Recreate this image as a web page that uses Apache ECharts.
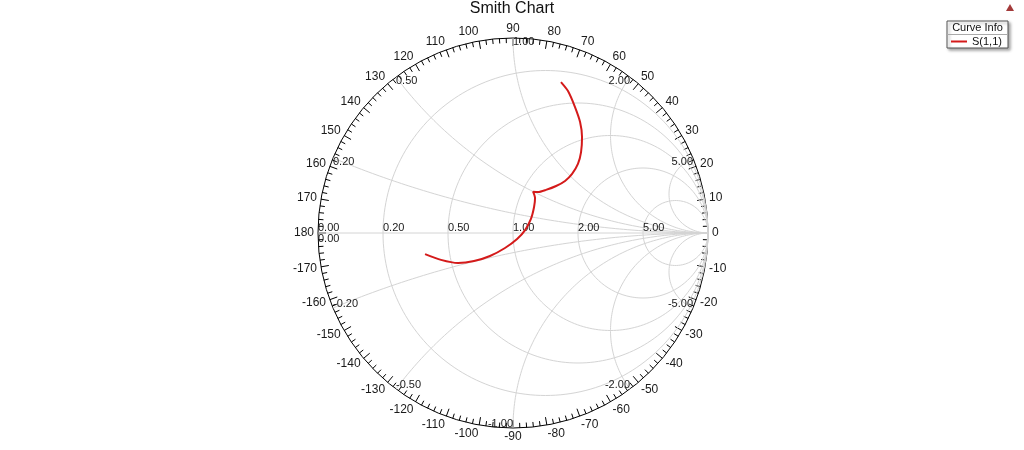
<!DOCTYPE html>
<html><head><meta charset="utf-8">
<script src="https://cdn.jsdelivr.net/npm/echarts/dist/echarts.min.js"></script>
<style>html,body{margin:0;padding:0;background:#fff}#c{width:1024px;height:450px}</style>
</head><body><div id="c"></div>
<script>
// ---- chart data ----
const titleText = 'Smith Chart';
const legendTitle = 'Curve Info';
const seriesName = 'S(1,1)';
const resistanceValues = [0.2, 0.5, 1, 2, 5];
const reactanceValues = [0.2, 0.5, 1, 2, 5, -0.2, -0.5, -1, -2, -5];
const angleTickLabels = [0, 10, 20, 30, 40, 50, 60, 70, 80, 90, 100, 110, 120, 130, 140, 150, 160, 170, 180,
  -170, -160, -150, -140, -130, -120, -110, -100, -90, -80, -70, -60, -50, -40, -30, -20, -10];
// reflection coefficient of S(1,1): real and imaginary parts
const s11Re = [0.246, 0.282, 0.318, 0.344, 0.354, 0.349, 0.333, 0.303, 0.267, 0.221, 0.169, 0.128, 0.103, 0.113, 0.108, 0.092, 0.062, 0.021, -0.041, -0.118, -0.200, -0.282, -0.369, -0.451];
const s11Im = [0.774, 0.728, 0.646, 0.569, 0.492, 0.415, 0.354, 0.303, 0.267, 0.241, 0.221, 0.210, 0.212, 0.179, 0.133, 0.072, 0.015, -0.031, -0.077, -0.118, -0.144, -0.154, -0.138, -0.108];

// ---- layout / style ----
const CX = 513, CY = 233, RAD = 195;
const GRID_COLOR = '#d4d4d4';
const FONT = 'Liberation Sans, Arial, sans-serif';

function arc(cx, cy, r, a0, a1, n) {
  const pts = [];
  for (let i = 0; i <= n; i++) {
    const a = a0 + (a1 - a0) * i / n;
    pts.push([cx + r * Math.cos(a), cy + r * Math.sin(a)]);
  }
  return pts;
}
const gridSeries = [];
function addGrid(pts) {
  gridSeries.push({
    type: 'line', data: pts, showSymbol: false, silent: true, animation: false, z: 1,
    lineStyle: { color: GRID_COLOR, width: 1 }, clip: false
  });
}
addGrid([[-1, 0], [1, 0]]);
resistanceValues.forEach(r => addGrid(arc(r / (1 + r), 0, 1 / (1 + r), 0, 2 * Math.PI, 200)));
reactanceValues.forEach(x => {
  const ax = Math.abs(x), s = Math.sign(x);
  const bx = (ax * ax - 1) / (ax * ax + 1), by = 2 * ax / (ax * ax + 1);
  let end = Math.atan2(by - 1 / ax, bx - 1);
  if (end > -Math.PI / 2) end -= 2 * Math.PI;
  const pts = arc(1, 1 / ax, 1 / ax, -Math.PI / 2, end, 200).map(p => [p[0], s * p[1]]);
  addGrid(pts);
});

// labels
const labels = [];
[0].concat(resistanceValues).forEach(r => {
  labels.push({ v: [(r - 1) / (r + 1), 0], text: r.toFixed(2), align: 'left', va: 'bottom', dx: 0, dy: 0, size: 11 });
});
labels.push({ v: [-1, 0], text: (0).toFixed(2), align: 'left', va: 'top', dx: 0, dy: 0, size: 11 });
reactanceValues.forEach(x => {
  const ax = Math.abs(x), s = Math.sign(x);
  const bx = (ax * ax - 1) / (ax * ax + 1), by = s * 2 * ax / (ax * ax + 1);
  const right = s > 0 ? ax > 1 : ax >= 1;
  labels.push({ v: [bx, by], text: x.toFixed(2), align: right ? 'right' : 'left', va: 'middle', dx: 0, dy: s > 0 ? 4 : -4, size: 11 });
});
const LR = 199 / RAD;
angleTickLabels.forEach(a => {
  const t = a * Math.PI / 180, c = Math.cos(t), sn = Math.sin(t);
  labels.push({ v: [LR * c, LR * sn], text: String(a), align: c > 0.05 ? 'left' : (c < -0.05 ? 'right' : 'center'), va: 'middle', dx: 0, dy: -sn * 5, size: 12 });
});

const chart = echarts.init(document.getElementById('c'));
chart.setOption({
  animation: false,
  backgroundColor: '#fff',
  title: { text: titleText, left: 'center', top: 1, padding: 0, textStyle: { fontFamily: FONT, fontSize: 16, fontWeight: 'normal', color: '#111' } },
  grid: { left: CX - RAD, top: CY - RAD, width: 2 * RAD, height: 2 * RAD },
  xAxis: { type: 'value', min: -1, max: 1, show: false },
  yAxis: { type: 'value', min: -1, max: 1, show: false },
  polar: { center: [CX, CY], radius: RAD },
  angleAxis: {
    type: 'value', min: -180, max: 180, interval: 10, startAngle: 180, clockwise: false,
    axisLine: { show: true, lineStyle: { color: '#000', width: 1 } },
    axisTick: { show: true, inside: true, length: 8, lineStyle: { color: '#000', width: 1 } },
    minorTick: { show: true, splitNumber: 5, length: 5, lineStyle: { color: '#000', width: 1 } },
    axisLabel: { show: false }, splitLine: { show: false }
  },
  radiusAxis: { type: 'value', min: 0, max: 1, show: false, axisLine: { show: false }, axisTick: { show: false }, axisLabel: { show: false }, splitLine: { show: false } },
  legend: {
    data: [{ name: seriesName, icon: 'rect' }], left: 951, top: 36, padding: 0,
    itemWidth: 16, itemHeight: 2, itemGap: 5, selectedMode: false,
    textStyle: { fontFamily: FONT, fontSize: 11, color: '#111' }
  },
  graphic: [
    { type: 'rect', shape: { x: 947, y: 21, width: 61, height: 27 }, z: 0,
      style: { fill: '#fff', stroke: '#555', lineWidth: 1, shadowBlur: 3, shadowOffsetX: 2, shadowOffsetY: 2, shadowColor: 'rgba(0,0,0,0.35)' } },
    { type: 'line', shape: { x1: 947, y1: 34.5, x2: 1008, y2: 34.5 }, z: 1, style: { stroke: '#aaa', lineWidth: 1 } },
    { type: 'text', x: 977.5, y: 28, z: 1, style: { text: legendTitle, align: 'center', verticalAlign: 'middle', fontFamily: FONT, fontSize: 11, fill: '#111' } },
    { type: 'polygon', shape: { points: [[1006, 11], [1010, 4], [1014, 11]] }, style: { fill: '#a33a3a' } }
  ],
  series: gridSeries.concat([
    {
      type: 'custom', coordinateSystem: 'cartesian2d', silent: true, z: 5, clip: false,
      data: labels.map(l => l.v),
      renderItem: function (params, api) {
        const l = labels[params.dataIndex];
        const p = api.coord([api.value(0), api.value(1)]);
        return { type: 'text', x: p[0] + l.dx, y: p[1] + l.dy,
          style: { text: l.text, align: l.align, verticalAlign: l.va, textAlign: l.align, textVerticalAlign: l.va,
            fontFamily: FONT, fontSize: l.size, fill: '#1a1a1a' } };
      }
    },
    {
      name: seriesName, type: 'line', data: s11Re.map((r, i) => [r, s11Im[i]]),
      showSymbol: false, smooth: 0.25, z: 10, color: '#d41a1a',
      lineStyle: { color: '#d41a1a', width: 2 }
    }
  ])
});
</script></body></html>
